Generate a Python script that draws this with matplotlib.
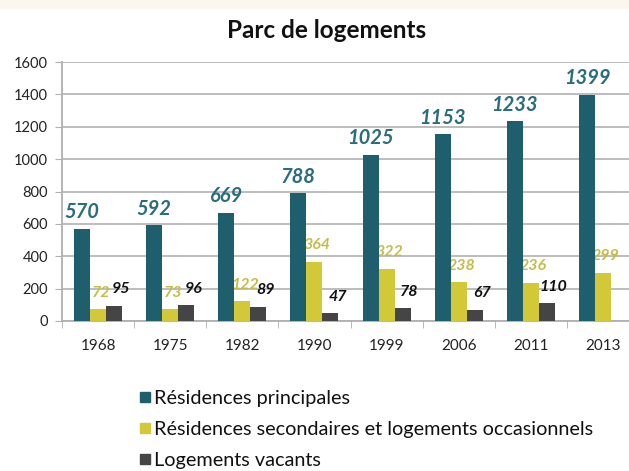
import matplotlib
matplotlib.use("Agg")
import matplotlib.pyplot as plt
from matplotlib.lines import Line2D
from matplotlib.patches import Rectangle
import numpy as np

plt.rcParams['font.family'] = ['Lato', 'DejaVu Sans']

years = ["1968", "1975", "1982", "1990", "1999", "2006", "2011", "2013"]
principales = [570, 592, 669, 788, 1025, 1153, 1233, 1399]
secondaires = [72, 73, 122, 364, 322, 238, 236, 299]
vacants = [95, 96, 89, 47, 78, 67, 110, None]

series_names = [
    "Résidences principales",
    "Résidences secondaires et logements occasionnels",
    "Logements vacants",
]
bar_colors = ["#1f5f6d", "#d2c838", "#454545"]
label_colors = ["#2a6d7c", "#c4bd4c", "#111111"]
label_sizes = [14.5, 11.5, 11.5]
label_dx = [0, 2, 5]
label_z = [4, 2.5, 4]  # secondary labels sit behind the neighbouring bars

W, H = 629, 471
fig = plt.figure(figsize=(W / 100, H / 100), dpi=100)
fig.patch.set_facecolor("white")
fig.patches.append(Rectangle((0, 1 - 8 / H), 1, 8 / H, transform=fig.transFigure,
                             color="#fcf6ee", zorder=0))

ax = fig.add_axes([62 / W, 1 - 321 / H, 577 / W, 259 / H])
ax.set_xlim(-0.5, len(years) - 0.5)
ax.set_ylim(0, 1600)

x = np.arange(len(years))
width = 16 / 72
offsets = [-width, 0, width]
all_series = [principales, secondaires, vacants]

for vals, off, bc, lc, fs, dx, z in zip(all_series, offsets, bar_colors, label_colors,
                                        label_sizes, label_dx, label_z):
    for xi, v in zip(x, vals):
        if v is None:
            continue
        ax.bar(xi + off, v, width=width, color=bc, zorder=3)
        ax.annotate(str(v), (xi + off, v), xytext=(dx, 12), textcoords="offset points",
                    ha="center", va="center", fontsize=fs, fontweight="bold",
                    fontstyle="italic", color=lc, zorder=z)

ax.set_yticks(np.arange(0, 1601, 200))
ax.yaxis.grid(True, color="#b8b8b8", linewidth=1.3, zorder=0)
ax.set_axisbelow(True)
ax.tick_params(axis="y", length=5, color="#b0b0b0", labelsize=10.5, labelcolor="#222222", pad=5)

ax.set_xticks(x)
ax.set_xticklabels(years)
ax.tick_params(axis="x", length=0, labelsize=11, labelcolor="#222222", pad=13)
ax.set_xticks(np.arange(-0.5, len(years), 1), minor=True)
ax.tick_params(axis="x", which="minor", length=5, color="#b0b0b0", direction="out")

for side in ["top", "right"]:
    ax.spines[side].set_visible(False)
for side in ["left", "bottom"]:
    ax.spines[side].set_color("#b0b0b0")
    ax.spines[side].set_linewidth(1.3)

fig.text(327 / W, 1 - 30 / H, "Parc de logements", ha="center", va="center",
         fontsize=17.5, fontweight="bold", color="#111111")

handles = [Line2D([], [], marker="s", linestyle="none", markersize=7.5,
                  markerfacecolor=c, markeredgecolor=c) for c in bar_colors]
fig.legend(handles, series_names, loc="upper left",
           bbox_to_anchor=(129 / W, 1 - 380 / H), frameon=False,
           fontsize=14.3, handlelength=0.6, handletextpad=0.15,
           labelspacing=0.7, borderpad=0, labelcolor="#111111")

fig.savefig("out.png", dpi=100)
